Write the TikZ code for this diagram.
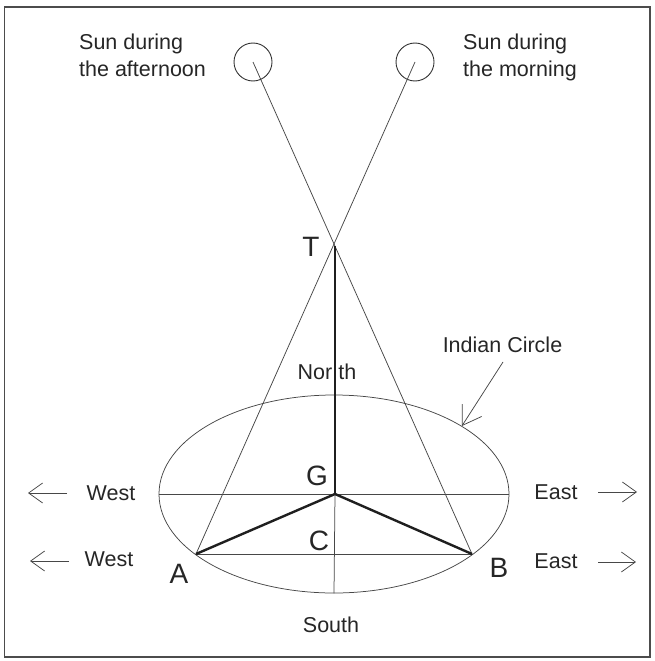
\documentclass[tikz,border=0pt]{standalone}
\usepackage{fontspec}
\setmainfont{Liberation Sans}
\usetikzlibrary{arrows.meta,shapes.geometric}
\begin{document}
\begin{tikzpicture}[x=1pt,y=-1pt,
  thinln/.style={draw=black!72, line width=0.75pt},
  thickln/.style={draw=black!88, line width=2.4pt, line join=round},
  lbl/.style={font=\fontsize{21.5}{27}\selectfont, text=black!85, inner sep=0pt, anchor=base},
  ptlbl/.style={font=\fontsize{28}{32}\selectfont, text=black!85, inner sep=0pt, anchor=base},
  dirarrow/.style={thinln, -{Straight Barb[length=14pt,width=20pt]}},
  sun/.style={circle, draw=black!80, line width=0.9pt, minimum size=38pt, inner sep=0pt}
]
\useasboundingbox (0,0) rectangle (654,661);
\draw[draw=black!70, line width=1.2pt] (4.5,7) rectangle (650,657);

% main points
\node[ellipse, thinln, minimum width=350pt, minimum height=198pt, inner sep=0pt] (circ) at (334,494) {};
\coordinate (G) at (335,494);
\coordinate (T) at (335,246);
\coordinate (A) at (196,554);
\coordinate (B) at (472,554);
\coordinate (S) at (335,593);

% suns
\node[sun] (sunPM) at (253,62) {};
\node[sun] (sunAM) at (415,62) {};

% sun rays
\draw[thinln] (sunPM.center) -- (B);
\draw[thinln] (sunAM.center) -- (A);

% axes in circle
\draw[thinln] (circ.west) -- (circ.east);
\draw[thinln] (A) -- (B);
\draw[thinln] (G) -- (circ.south);

% thick gnomon lines
\draw[thickln] (T) -- (G);
\draw[thickln] (A) -- (G) -- (B);

% labels
\node[ptlbl] (lT) at (311,256) {T};
\node[ptlbl] (lG) at (317,485) {G};
\node[ptlbl] (lC) at (319,550) {C};
\node[ptlbl] (lA) at (179,583) {A};
\node[ptlbl] (lB) at (499,577) {B};

\node[lbl] (north) at (327,379) {Nor\hspace{6pt}th};
\node[lbl] (south) at (331,632) {South};
\node[lbl] (indian) at (502.5,352) {Indian Circle};

\node[lbl, anchor=base west] (pm1) at (79,50) {Sun during};
\node[lbl, anchor=base west] (pm2) at (79,77) {the afternoon};
\node[lbl, anchor=base west] (am1) at (463,50) {Sun during};
\node[lbl, anchor=base west] (am2) at (463,77) {the morning};

\node[lbl] (west1) at (111,500.5) {West};
\node[lbl] (west2) at (109,566) {West};
\node[lbl] (east1) at (556,499.5) {East};
\node[lbl] (east2) at (556,568) {East};

% Indian circle pointer
\coordinate (ptr) at (503,362);
\draw[thinln, -{Straight Barb[length=18pt,width=23pt]}] (ptr) -- (circ.28);

% direction arrows
\coordinate (w1s) at (67,493);  \coordinate (w1e) at (28,493);
\coordinate (w2s) at (69,561);  \coordinate (w2e) at (30,561);
\coordinate (e1s) at (598,492); \coordinate (e1e) at (637,492);
\coordinate (e2s) at (598,562); \coordinate (e2e) at (636,562);
\draw[dirarrow] (w1s) -- (w1e);
\draw[dirarrow] (w2s) -- (w2e);
\draw[dirarrow] (e1s) -- (e1e);
\draw[dirarrow] (e2s) -- (e2e);
\end{tikzpicture}
\end{document}
